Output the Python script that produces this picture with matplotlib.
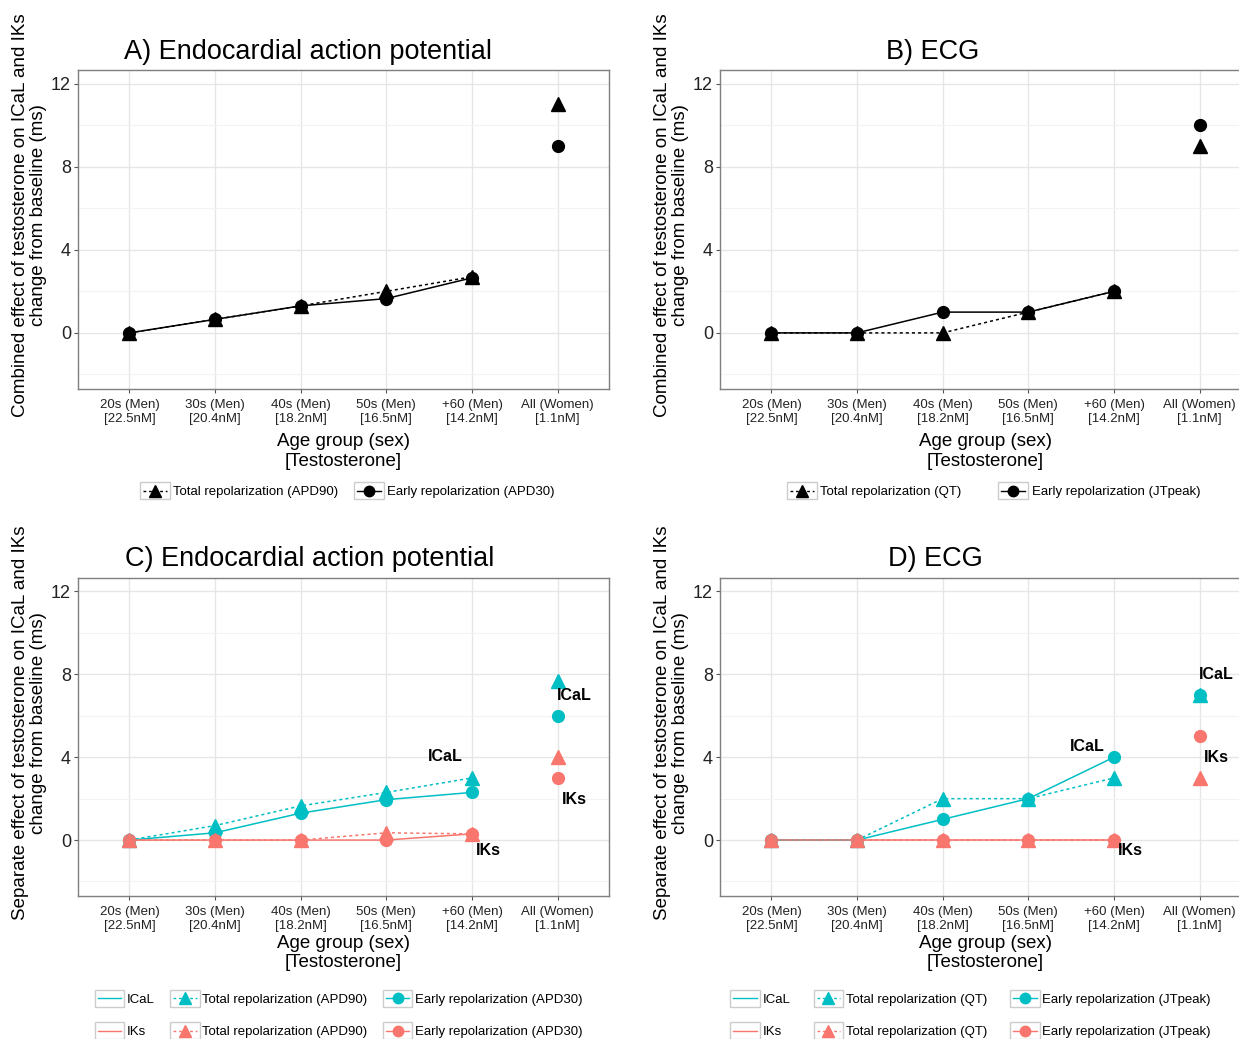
import numpy as np
import matplotlib
matplotlib.use('Agg')
import matplotlib.pyplot as plt
from matplotlib.lines import Line2D
from matplotlib.patches import Rectangle
from matplotlib.legend_handler import HandlerLine2D

plt.rcParams['font.family'] = ['Liberation Sans', 'DejaVu Sans']

groups = ['20s (Men)\n[22.5nM]', '30s (Men)\n[20.4nM]', '40s (Men)\n[18.2nM]',
          '50s (Men)\n[16.5nM]', '+60 (Men)\n[14.2nM]', 'All (Women)\n[1.1nM]']

# panel A: endocardial AP, combined effect
a_apd90 = [0, 0.65, 1.3, 2.0, 2.7, 11]
a_apd30 = [0, 0.65, 1.3, 1.65, 2.65, 9]
# panel B: ECG, combined effect
b_qt = [0, 0, 0, 1, 2, 9]
b_jt = [0, 0, 1, 1, 2, 10]
# panel C: endocardial AP, separate effect
c_ical_apd90 = [0, 0.7, 1.65, 2.3, 3.0, 7.7]
c_ical_apd30 = [0, 0.35, 1.3, 1.95, 2.3, 6.0]
c_iks_apd90 = [0, 0, 0, 0.35, 0.3, 4.0]
c_iks_apd30 = [0, 0, 0, 0, 0.3, 3.0]
# panel D: ECG, separate effect
d_ical_qt = [0, 0, 2, 2, 3, 7]
d_ical_jt = [0, 0, 1, 2, 4, 7]
d_iks_qt = [0, 0, 0, 0, 0, 3]
d_iks_jt = [0, 0, 0, 0, 0, 5]

CYAN = '#00BFC4'
RED = '#F8766D'
W, H = 1239, 1039


class BoxedHandler(HandlerLine2D):
    def create_artists(self, legend, orig_handle, xdescent, ydescent, width, height, fontsize, trans):
        arts = super().create_artists(legend, orig_handle, xdescent, ydescent, width, height, fontsize, trans)
        rect = Rectangle((-xdescent - 2, -ydescent - 0.45 * height), width + 4, height * 1.9,
                         facecolor='white', edgecolor='#cccccc', lw=1.0, transform=trans)
        return [rect] + arts


def make_axes(fig, left, top, right, bottom):
    ax = fig.add_axes([left / W, 1 - bottom / H, (right - left) / W, (bottom - top) / H])
    x = np.arange(len(groups))
    ax.set_xlim(-0.6, 5.6)
    ax.set_ylim(-2.7, 12.65)
    ax.set_yticks([0, 4, 8, 12])
    ax.set_yticks([-2, 2, 6, 10], minor=True)
    ax.set_xticks(x)
    ax.set_xticklabels(groups, fontsize=9.5, color='#222222', linespacing=1.25)
    ax.tick_params(axis='y', labelsize=13, colors='#222222', length=3, color='#555555', pad=2)
    ax.tick_params(axis='x', length=3, color='#555555', pad=4)
    ax.tick_params(axis='y', which='minor', length=0)
    ax.grid(True, which='major', color='#e6e6e6', lw=1.0)
    ax.grid(True, which='minor', axis='y', color='#f3f3f3', lw=0.8)
    ax.set_axisbelow(True)
    for s in ax.spines.values():
        s.set_color('#7f7f7f')
        s.set_linewidth(1.0)
    return ax


def draw_series(ax, vals, color, marker, dashed):
    x = np.arange(len(groups))
    ms = 9.5 if marker == '^' else 8.5
    ls = (0, (2, 2)) if dashed else '-'
    z = 4 if marker == '^' else 3
    ax.plot(x[:5], vals[:5], color=color, lw=1.1, linestyle=ls, zorder=2)
    ax.plot(x, vals, color=color, lw=0, marker=marker, markersize=ms, zorder=z)


def label_axes(ax, ylabel, title, title_x, title_y, xpad):
    ax.set_ylabel(ylabel, fontsize=13.5, linespacing=1.1)
    ax.yaxis.set_label_coords(-0.058, 0.545)
    ax.set_xlabel('Age group (sex)\n[Testosterone]', fontsize=13.5, linespacing=1.2, labelpad=xpad)
    ax.figure.text(title_x / W, 1 - title_y / H, title, fontsize=19.5, ha='center', va='center')


fig = plt.figure(figsize=(W / 100, H / 100), dpi=100)

ylab_comb = 'Combined effect of testosterone on ICaL and IKs\nchange from baseline (ms)'
ylab_sep = 'Separate effect of testosterone on ICaL and IKs\nchange from baseline (ms)'

# A
ax = make_axes(fig, 78, 70, 609, 389)
draw_series(ax, a_apd30, 'black', 'o', False)
draw_series(ax, a_apd90, 'black', '^', True)
label_axes(ax, ylab_comb, 'A) Endocardial action potential', 308, 52, 6)
hA = [Line2D([], [], color='black', marker='^', markersize=9, lw=1, linestyle=(0, (2, 2))),
      Line2D([], [], color='black', marker='o', markersize=7.5, lw=1)]
fig.legend(hA, ['Total repolarization (APD90)', 'Early repolarization (APD30)'],
           loc='center', bbox_to_anchor=(349 / W, 1 - 492 / H), ncol=2, frameon=False,
           fontsize=9.5, handlelength=1.8, columnspacing=1.4, handletextpad=0.5,
           handler_map={Line2D: BoxedHandler()})

# B
ax = make_axes(fig, 720, 70, 1251, 389)
draw_series(ax, b_jt, 'black', 'o', False)
draw_series(ax, b_qt, 'black', '^', True)
label_axes(ax, ylab_comb, 'B) ECG', 933, 52, 6)
fig.legend(hA, ['Total repolarization (QT)', 'Early repolarization (JTpeak)'],
           loc='center', bbox_to_anchor=(995 / W, 1 - 492 / H), ncol=2, frameon=False,
           fontsize=9.5, handlelength=1.8, columnspacing=3.0, handletextpad=0.5,
           handler_map={Line2D: BoxedHandler()})

# C
ax = make_axes(fig, 78, 578, 609, 896)
draw_series(ax, c_ical_apd30, CYAN, 'o', False)
draw_series(ax, c_iks_apd30, RED, 'o', False)
draw_series(ax, c_ical_apd90, CYAN, '^', True)
draw_series(ax, c_iks_apd90, RED, '^', True)
for tx, ty, s in [(3.69, 4.05, 'ICaL'), (4.19, -0.48, 'IKs'), (5.19, 7.0, 'ICaL'), (5.19, 1.98, 'IKs')]:
    ax.text(tx, ty, s, fontsize=11.5, fontweight='bold', ha='center', va='center', zorder=5)
label_axes(ax, ylab_sep, 'C) Endocardial action potential', 310, 559, 2)


def sep_handles():
    return [Line2D([], [], color=CYAN, lw=1),
            Line2D([], [], color=RED, lw=1),
            Line2D([], [], color=CYAN, marker='^', markersize=9, lw=1, linestyle=(0, (2, 2))),
            Line2D([], [], color=RED, marker='^', markersize=9, lw=1, linestyle=(0, (2, 2))),
            Line2D([], [], color=CYAN, marker='o', markersize=7.5, lw=1),
            Line2D([], [], color=RED, marker='o', markersize=7.5, lw=1)]


fig.legend(sep_handles(), ['ICaL', 'IKs', 'Total repolarization (APD90)', 'Total repolarization (APD90)',
                           'Early repolarization (APD30)', 'Early repolarization (APD30)'],
           loc='center', bbox_to_anchor=(340 / W, 1 - 1016 / H), ncol=3, frameon=False,
           fontsize=9.5, handlelength=1.8, columnspacing=1.4, handletextpad=0.4, labelspacing=1.5,
           handler_map={Line2D: BoxedHandler()})

# D
ax = make_axes(fig, 720, 578, 1251, 896)
draw_series(ax, d_ical_jt, CYAN, 'o', False)
draw_series(ax, d_iks_jt, RED, 'o', False)
draw_series(ax, d_ical_qt, CYAN, '^', True)
draw_series(ax, d_iks_qt, RED, '^', True)
for tx, ty, s in [(3.69, 4.5, 'ICaL'), (4.19, -0.48, 'IKs'), (5.19, 8.0, 'ICaL'), (5.19, 4.0, 'IKs')]:
    ax.text(tx, ty, s, fontsize=11.5, fontweight='bold', ha='center', va='center', zorder=5)
label_axes(ax, ylab_sep, 'D) ECG', 935, 559, 2)
fig.legend(sep_handles(), ['ICaL', 'IKs', 'Total repolarization (QT)', 'Total repolarization (QT)',
                           'Early repolarization (JTpeak)', 'Early repolarization (JTpeak)'],
           loc='center', bbox_to_anchor=(972 / W, 1 - 1016 / H), ncol=3, frameon=False,
           fontsize=9.5, handlelength=1.8, columnspacing=2.0, handletextpad=0.4, labelspacing=1.5,
           handler_map={Line2D: BoxedHandler()})

fig.savefig('out.png', dpi=100)
